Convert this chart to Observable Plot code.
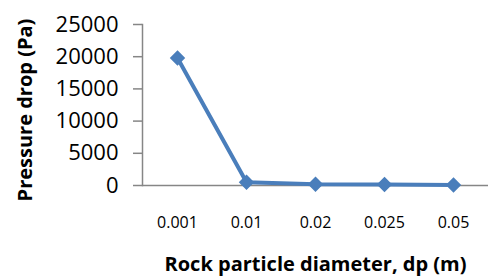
<!DOCTYPE html>
<html><head><meta charset="utf-8">
<script src="https://cdn.jsdelivr.net/npm/d3@7"></script>
<script src="https://cdn.jsdelivr.net/npm/@observablehq/plot@0.6"></script>
<style>body{margin:0;background:#fff;} svg{display:block;}</style>
</head><body><div id="chart"></div>
<script>
const diameters = ["0.001", "0.01", "0.02", "0.025", "0.05"];
const pressureDrop = [19800, 500, 200, 150, 70];
const yTicks = [0, 5000, 10000, 15000, 20000, 25000];
const xTitle = "Rock particle diameter, dp (m)";
const yTitle = "Pressure drop (Pa)";

const data = diameters.map((d, i) => ({d, v: pressureDrop[i]}));
const blue = "#4a7ebb", gray = "#868686";

const chart = Plot.plot({
  width: 490, height: 280,
  marginLeft: 142, marginRight: 2, marginTop: 24, marginBottom: 95,
  style: {fontFamily: "'Open Sans', sans-serif", background: "#fff"},
  x: {type: "point", domain: diameters, padding: 0.5},
  y: {domain: [0, 25000]},
  marks: [
    Plot.axisY({ticks: yTicks, tickSize: 9, tickPadding: 15, stroke: gray, strokeWidth: 1.5, label: null, fontSize: 22, fill: "#000", tickFormat: d => String(d)}),
    Plot.axisX({tickSize: 0, tickPadding: 31, label: null, fontSize: 16, fill: "#000"}),
    Plot.frame({anchor: "left", stroke: gray, strokeWidth: 1.5}),
    Plot.ruleY([0], {stroke: gray, strokeWidth: 1.5}),
    Plot.line(data, {x: "d", y: "v", stroke: blue, strokeWidth: 4}),
    Plot.dot(data, {x: "d", y: "v", symbol: "diamond2", r: 6, fill: blue, stroke: blue}),
    Plot.text([xTitle], {frameAnchor: "bottom", dy: 85, fontSize: 20, fontWeight: "bold", fill: "#000"}),
    Plot.text([yTitle], {frameAnchor: "left", textAnchor: "middle", dx: -117, dy: 5, rotate: -90, fontSize: 20, fontWeight: "bold", fill: "#000"})
  ]
});
document.getElementById("chart").append(chart);
</script></body></html>
